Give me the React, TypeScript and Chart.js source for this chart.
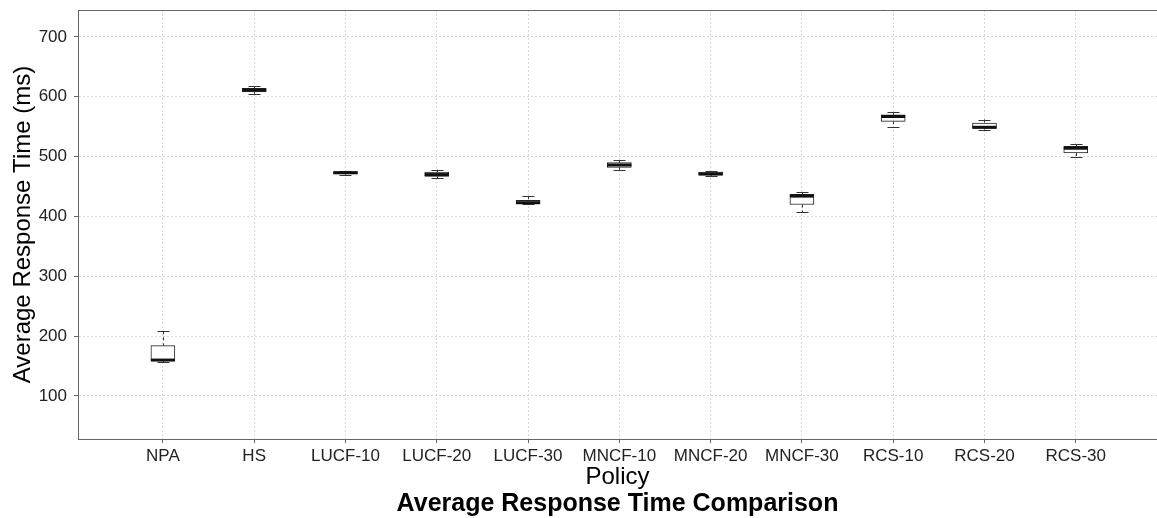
import React, { useEffect, useRef } from 'react';
import { Chart, registerables } from 'chart.js';
Chart.register(...registerables);

const categories = ['NPA', 'HS', 'LUCF-10', 'LUCF-20', 'LUCF-30', 'MNCF-10', 'MNCF-20', 'MNCF-30', 'RCS-10', 'RCS-20', 'RCS-30'];
const mins = [157, 605, 470, 464, 420, 478, 467, 407, 550, 545, 499];
const q1s = [159, 608, 471, 467, 421, 482, 469, 420, 559, 547, 506];
const medians = [160, 611, 473, 470, 423, 486, 471, 434, 567, 549, 514];
const q3s = [184, 614, 475, 474, 427, 490, 474, 437, 570, 556, 517];
const maxs = [208, 618, 476, 478, 434, 494, 476, 441, 574, 562, 521];
const yTicks = [100, 200, 300, 400, 500, 600, 700];

const FONT = "'Liberation Sans', Arial, Helvetica, sans-serif";
const BOX_HALF = 12;
const CAP_HALF = 6;

const boxPlugin = {
  id: 'boxWhiskers',
  beforeDatasetsDraw(chart: any) {
    const { ctx, scales, chartArea } = chart;
    const x = scales.x;
    const y = scales.y;
    ctx.save();
    ctx.strokeStyle = '#666';
    ctx.lineWidth = 1;
    ctx.setLineDash([]);
    ctx.beginPath();
    ctx.moveTo(chartArea.left, chartArea.top + 0.5);
    ctx.lineTo(chartArea.right, chartArea.top + 0.5);
    ctx.stroke();
    categories.forEach((_, i) => {
      const px = Math.round(x.getPixelForValue(i + 1)) + 0.5;
      ctx.strokeStyle = '#333';
      ctx.lineWidth = 1;
      ctx.setLineDash([3, 3]);
      ctx.beginPath();
      ctx.moveTo(px, y.getPixelForValue(maxs[i]));
      ctx.lineTo(px, y.getPixelForValue(q3s[i]));
      ctx.moveTo(px, y.getPixelForValue(q1s[i]));
      ctx.lineTo(px, y.getPixelForValue(mins[i]));
      ctx.stroke();
      ctx.setLineDash([]);
      ctx.beginPath();
      const yMax = Math.round(y.getPixelForValue(maxs[i])) + 0.5;
      const yMin = Math.round(y.getPixelForValue(mins[i])) + 0.5;
      ctx.moveTo(px - CAP_HALF, yMax);
      ctx.lineTo(px + CAP_HALF, yMax);
      ctx.moveTo(px - CAP_HALF, yMin);
      ctx.lineTo(px + CAP_HALF, yMin);
      ctx.stroke();
    });
    ctx.restore();
  },
  afterDatasetsDraw(chart: any) {
    const { ctx, scales } = chart;
    const x = scales.x;
    const y = scales.y;
    ctx.save();
    ctx.strokeStyle = '#111';
    ctx.lineWidth = 3;
    categories.forEach((_, i) => {
      const px = x.getPixelForValue(i + 1);
      const py = y.getPixelForValue(medians[i]);
      ctx.beginPath();
      ctx.moveTo(px - BOX_HALF, py);
      ctx.lineTo(px + BOX_HALF, py);
      ctx.stroke();
    });
    ctx.restore();
  },
};

export default function App() {
  const ref = useRef<HTMLCanvasElement>(null);
  useEffect(() => {
    if (!ref.current) return;
    const chart = new Chart(ref.current, {
      type: 'bar',
      data: {
        datasets: [
          {
            label: 'box',
            data: categories.map((_, i) => ({ x: i + 1, y: [q1s[i], q3s[i]] })) as any,
            backgroundColor: '#ffffff',
            borderColor: '#222',
            borderWidth: 1,
            borderSkipped: false,
            barThickness: BOX_HALF * 2,
          },
        ],
      },
      options: {
        animation: false,
        responsive: true,
        maintainAspectRatio: false,
        layout: { padding: { top: 10, left: 0, right: 0, bottom: 0 } },
        plugins: {
          legend: { display: false },
          tooltip: { enabled: false },
          title: {
            display: true,
            position: 'bottom',
            fullSize: false,
            text: 'Average Response Time Comparison',
            color: '#000',
            font: { family: FONT, size: 25, weight: 'bold', lineHeight: 1.15 },
            padding: { top: 2, bottom: 0 },
          },
        },
        scales: {
          x: {
            type: 'linear',
            min: 0.07,
            max: 11.89,
            offset: false,
            afterBuildTicks: (s: any) => {
              s.ticks = categories.map((_, i) => ({ value: i + 1 }));
            },
            afterFit: (s: any) => {
              s.height = 48.2;
              s.paddingLeft = 0;
              s.paddingRight = 0;
            },
            ticks: {
              color: '#222',
              font: { family: FONT, size: 17 },
              padding: 3,
              autoSkip: false,
              maxRotation: 0,
              callback: (v: any) => categories[Math.round(Number(v)) - 1] ?? '',
            },
            grid: {
              offset: false,
              color: '#d8d8d8',
              lineWidth: 1,
              tickLength: 4,
              tickColor: '#666',
              tickBorderDash: [],
            } as any,
            border: { display: true, color: '#666', width: 1, dash: [2, 2] },
            title: {
              display: true,
              text: 'Policy',
              color: '#000',
              font: { family: FONT, size: 24, lineHeight: 0.8 },
              padding: { top: 0, bottom: 0 },
            },
          },
          y: {
            type: 'linear',
            min: 28,
            max: 745,
            afterBuildTicks: (s: any) => {
              s.ticks = yTicks.map((v) => ({ value: v }));
            },
            afterFit: (s: any) => {
              s.width = 78;
              s.paddingTop = 0;
              s.paddingBottom = 0;
            },
            ticks: {
              color: '#222',
              font: { family: FONT, size: 17 },
              padding: 7,
            },
            grid: {
              color: '#d8d8d8',
              lineWidth: 1,
              tickLength: 4,
              tickColor: '#666',
              tickBorderDash: [],
            } as any,
            border: { display: true, color: '#666', width: 1, dash: [2, 2] },
            title: {
              display: true,
              text: 'Average Response Time (ms)',
              color: '#000',
              font: { family: FONT, size: 24, lineHeight: 1 },
              padding: { top: 11, bottom: 0 },
            },
          },
        },
      },
      plugins: [boxPlugin],
    } as any);
    return () => chart.destroy();
  }, []);
  return (
    <div style={{ position: 'fixed', left: 0, top: 0, width: 1157, height: 518, background: '#fff' }}>
      <canvas ref={ref} />
    </div>
  );
}
